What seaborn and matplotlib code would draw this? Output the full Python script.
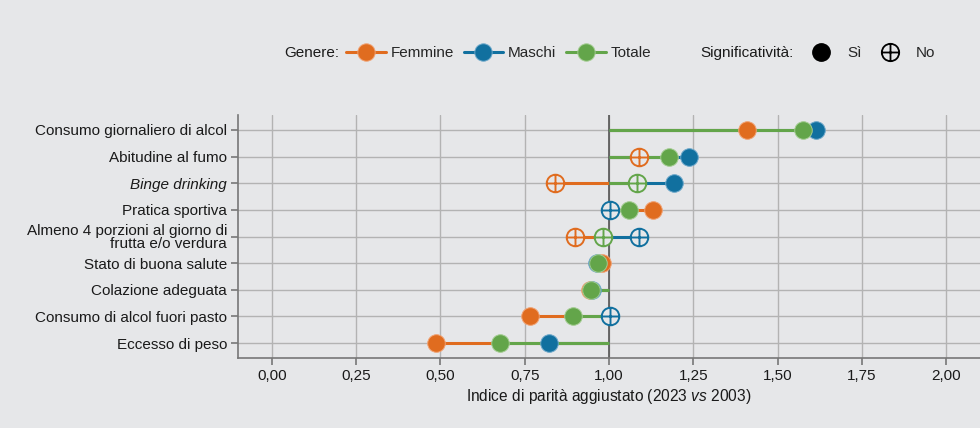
import numpy as np
import pandas as pd
import seaborn as sns
import matplotlib.pyplot as plt
from matplotlib.path import Path
from matplotlib.lines import Line2D

# data
categories = [
    "Consumo giornaliero di alcol",
    "Abitudine al fumo",
    "Binge drinking",
    "Pratica sportiva",
    "Almeno 4 porzioni al giorno di\nfrutta e/o verdura",
    "Stato di buona salute",
    "Colazione adeguata",
    "Consumo di alcol fuori pasto",
    "Eccesso di peso",
]
femmine = [1.41, 1.09, 0.84, 1.13, 0.90, 0.98, 0.945, 0.767, 0.487]
maschi = [1.615, 1.238, 1.193, 1.003, 1.089, 0.965, 0.95, 1.003, 0.821]
totale = [1.574, 1.177, 1.082, 1.06, 0.983, 0.968, 0.948, 0.892, 0.677]
sig_femmine = [1, 0, 0, 1, 0, 1, 1, 1, 1]
sig_maschi = [1, 1, 1, 0, 0, 1, 1, 0, 1]
sig_totale = [1, 1, 0, 1, 0, 1, 1, 1, 1]
x_ticks = [0, 0.25, 0.5, 0.75, 1.0, 1.25, 1.5, 1.75, 2.0]

BG = "#e6e7e9"
TXT = "#1a1a1a"
colors = {"Femmine": "#e06c1f", "Maschi": "#11709f", "Totale": "#63a54a"}
light = {"Femmine": "#f0a070", "Maschi": "#6aa6c9", "Totale": "#a2cc90"}

sns.set_theme(style="whitegrid")
plt.rcParams["font.family"] = ["Liberation Sans", "DejaVu Sans"]
plt.rcParams["mathtext.fontset"] = "custom"
plt.rcParams["mathtext.it"] = "Liberation Sans:italic"
plt.rcParams["mathtext.rm"] = "Liberation Sans"

# circle with cross for "No"
crossed = Path.make_compound_path(
    Path.unit_circle(),
    Path([(-1, 0), (1, 0)], [Path.MOVETO, Path.LINETO]),
    Path([(0, -1), (0, 1)], [Path.MOVETO, Path.LINETO]),
)

rows = []
for name, vals, sigs in [("Femmine", femmine, sig_femmine),
                         ("Maschi", maschi, sig_maschi),
                         ("Totale", totale, sig_totale)]:
    for i, (v, s) in enumerate(zip(vals, sigs)):
        rows.append({"genere": name, "y": i, "valore": v, "sig": s})
df = pd.DataFrame(rows)

fig = plt.figure(figsize=(9.8, 4.28), dpi=100, facecolor=BG)
ax = fig.add_axes([238 / 980, 1 - 358 / 428, 1 - 238 / 980, (358 - 115) / 428])
ax.set_facecolor(BG)

# segments from 1.0 to each value
for name in ["Femmine", "Maschi", "Totale"]:
    sub = df[df["genere"] == name]
    ax.hlines(sub["y"], 1.0, sub["valore"], color=colors[name], lw=2.2, zorder=3)

ax.axvline(1.0, color="#555555", lw=1.2, zorder=2)

for name in ["Femmine", "Maschi", "Totale"]:
    sub = df[df["genere"] == name]
    filled = sub[sub["sig"] == 1]
    hollow = sub[sub["sig"] == 0]
    sns.scatterplot(data=filled, x="valore", y="y", ax=ax, marker="o", s=160,
                    color=colors[name], edgecolor=light[name], linewidth=0.7,
                    zorder=4, legend=False)
    ax.scatter(hollow["valore"], hollow["y"], marker=crossed, s=160,
               facecolor=BG, edgecolor=colors[name], linewidth=1.4, zorder=4)

ax.set_xlim(-0.1, 2.1)
ax.set_ylim(8.56, -0.56)
ax.set_xticks(x_ticks)
ax.set_xticklabels([f"{t:.2f}".replace(".", ",") for t in x_ticks], fontsize=11, color=TXT)
ax.set_yticks(range(len(categories)))
ax.set_yticklabels(categories, fontsize=11, color=TXT, linespacing=0.95)
ax.get_yticklabels()[2].set_style("italic")
ax.set_ylabel("")
ax.set_xlabel(r"Indice di parità aggiustato (2023 $\it{vs}$ 2003)", fontsize=11.2, color=TXT, labelpad=3)

ax.grid(True, color="#b3b3b3", lw=1.0)
ax.set_axisbelow(True)
for s in ["top", "right"]:
    ax.spines[s].set_visible(False)
for s in ["left", "bottom"]:
    ax.spines[s].set_color("#777777")
    ax.spines[s].set_linewidth(1.2)
ax.tick_params(axis="both", length=5, width=1.2, color="#777777", pad=3, direction="out",
               bottom=True, left=True)

# legends
ly = 1 - 53 / 428
fig.text(284 / 980, ly, "Genere:", fontsize=11, va="center", ha="left", color=TXT)
h_gen = [Line2D([0], [0], color=colors[n], lw=2.2, marker="o", markersize=12.5,
                markeredgecolor=light[n], markeredgewidth=0.7) for n in colors]
fig.legend(h_gen, list(colors), loc="center left", bbox_to_anchor=(346 / 980, ly),
           ncol=3, frameon=False, fontsize=11, handlelength=2.6, handletextpad=0.3,
           columnspacing=0.65, borderpad=0, borderaxespad=0)
fig.text(700 / 980, ly, "Significatività:", fontsize=11, va="center", ha="left", color=TXT)
h_sig = [Line2D([0], [0], ls="none", marker="o", markersize=12.5, color="black"),
         Line2D([0], [0], ls="none", marker=crossed, markersize=12.5, markerfacecolor="none",
                markeredgecolor="black", markeredgewidth=1.3)]
fig.legend(h_sig, ["Sì", "No"], loc="center left", bbox_to_anchor=(812 / 980, ly),
           ncol=2, frameon=False, fontsize=11, handlelength=1.2, handletextpad=1.1,
           columnspacing=1.25, borderpad=0, borderaxespad=0)

fig.savefig("out.png", dpi=100, facecolor=BG)
